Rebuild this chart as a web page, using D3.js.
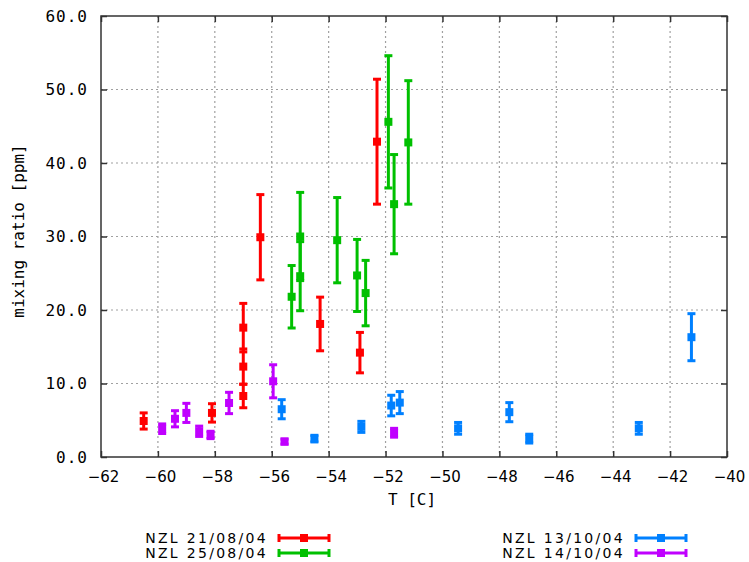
<!DOCTYPE html>
<html>
<head>
<meta charset="utf-8">
<script src="https://cdn.jsdelivr.net/npm/d3@7"></script>
<style>
html,body{margin:0;padding:0;background:#fff;}
svg{display:block;}
</style>
</head>
<body>
<svg id="chart" width="749" height="562"></svg>
<script>
// ---- data ----
const seriesNames = ["NZL 21/08/04", "NZL 25/08/04", "NZL 13/10/04", "NZL 14/10/04"];
const seriesColors = ["#ff0000", "#00c000", "#0080ff", "#c000ff"];

const redX   = [-60.5, -58.1, -57.0, -57.0, -57.0, -56.4, -54.3, -52.9, -52.3];
const redY   = [4.9, 6.0, 17.6, 12.3, 8.3, 29.9, 18.1, 14.2, 42.9];
const redErr = [1.1, 1.25, 3.3, 2.4, 1.6, 5.8, 3.65, 2.75, 8.5];

const greenX   = [-55.3, -55.0, -55.0, -53.7, -53.0, -52.7, -51.9, -51.7, -51.2];
const greenY   = [21.8, 30.0, 24.6, 29.5, 24.7, 22.3, 45.6, 34.4, 42.8];
const greenErr = [4.25, 6.0, 4.7, 5.8, 4.9, 4.45, 9.0, 6.75, 8.4];

const blueX   = [-55.65, -54.5, -52.85, -51.8, -51.5, -49.45, -47.65, -46.95, -43.1, -41.25];
const blueY   = [6.5, 2.5, 4.1, 7.0, 7.4, 3.9, 6.1, 2.5, 3.9, 16.3];
const blueErr = [1.3, 0.45, 0.75, 1.4, 1.5, 0.8, 1.3, 0.6, 0.8, 3.2];

const purpleX   = [-59.85, -59.4, -59.0, -58.55, -58.15, -57.5, -55.95, -55.55, -51.7];
const purpleY   = [3.85, 5.2, 6.0, 3.5, 3.0, 7.35, 10.3, 2.1, 3.3];
const purpleErr = [0.65, 1.1, 1.3, 0.7, 0.5, 1.45, 2.25, 0.35, 0.6];

const xTicks = [-62, -60, -58, -56, -54, -52, -50, -48, -46, -44, -42, -40];
const yTicks = [0, 10, 20, 30, 40, 50, 60];
const xLabel = "T [C]";
const yLabel = "mixing ratio [ppm]";

// ---- layout ----
const svg = d3.select("#chart");
const L = 101, R = 727, T = 16, B = 457;
const x = d3.scaleLinear().domain([-62, -40]).range([L, R]);
const y = d3.scaleLinear().domain([0, 60]).range([B, T]);

const allSeries = [
  {x: redX, y: redY, e: redErr},
  {x: greenX, y: greenY, e: greenErr},
  {x: blueX, y: blueY, e: blueErr},
  {x: purpleX, y: purpleY, e: purpleErr}
].map((s, i) => ({name: seriesNames[i], color: seriesColors[i],
  pts: s.x.map((v, j) => ({x: v, y: s.y[j], e: s.e[j]}))}));

// grid
const grid = svg.append("g").attr("stroke", "#a0a0a0").attr("stroke-width", 1.2)
  .attr("stroke-dasharray", "2,3");
xTicks.slice(1, -1).forEach(t => grid.append("line")
  .attr("x1", x(t)).attr("x2", x(t)).attr("y1", T).attr("y2", B));
yTicks.slice(1, -1).forEach(t => grid.append("line")
  .attr("x1", L).attr("x2", R).attr("y1", y(t)).attr("y2", y(t)));

// axes with inward ticks (bottom/left labeled, top/right unlabeled)
const fmtX = d3.format("d");
const gx = svg.append("g").attr("transform", `translate(0,${B})`)
  .call(d3.axisBottom(x).tickValues(xTicks).tickSizeInner(-6).tickSizeOuter(0).tickPadding(14)
    .tickFormat(d => fmtX(d)));
gx.select(".domain").remove();
gx.selectAll(".tick line").attr("stroke", "#333").attr("stroke-width", 1.5);
gx.selectAll(".tick text").attr("font-family", "DejaVu Sans").attr("font-size", 15)
  .attr("fill", "#000").attr("dx", 2);

const gxt = svg.append("g").attr("transform", `translate(0,${T})`)
  .call(d3.axisTop(x).tickValues(xTicks).tickSizeInner(-6).tickSizeOuter(0).tickFormat(""));
gxt.select(".domain").remove();
gxt.selectAll(".tick line").attr("stroke", "#333").attr("stroke-width", 1.5);

const gy = svg.append("g").attr("transform", `translate(${L},0)`)
  .call(d3.axisLeft(y).tickValues(yTicks).tickSizeInner(-6).tickSizeOuter(0).tickPadding(13)
    .tickFormat(d3.format(".1f")));
gy.select(".domain").remove();
gy.selectAll(".tick line").attr("stroke", "#333").attr("stroke-width", 1.5);
gy.selectAll(".tick text").attr("font-family", "DejaVu Sans Mono").attr("font-size", 16)
  .attr("letter-spacing", "1px").attr("fill", "#000");

const gyr = svg.append("g").attr("transform", `translate(${R},0)`)
  .call(d3.axisRight(y).tickValues(yTicks).tickSizeInner(-6).tickSizeOuter(0).tickFormat(""));
gyr.select(".domain").remove();
gyr.selectAll(".tick line").attr("stroke", "#333").attr("stroke-width", 1.5);

// frame
svg.append("rect").attr("x", L).attr("y", T).attr("width", R - L).attr("height", B - T)
  .attr("fill", "none").attr("stroke", "#333").attr("stroke-width", 1.5);

// axis labels
svg.append("text").attr("x", 412).attr("y", 499).attr("text-anchor", "middle")
  .attr("dominant-baseline", "central").attr("font-family", "DejaVu Sans Mono")
  .attr("font-size", 16).text(xLabel);
svg.append("text").attr("transform", "translate(18,231) rotate(-90)")
  .attr("text-anchor", "middle").attr("dominant-baseline", "central")
  .attr("font-family", "DejaVu Sans Mono").attr("font-size", 16).text(yLabel);

// series
const CAP = 4, MK = 8, LW = 3;
allSeries.forEach(s => {
  const g = svg.append("g").attr("stroke", s.color).attr("fill", s.color);
  s.pts.forEach(p => {
    const cx = x(p.x), y1 = y(p.y + p.e), y0 = y(p.y - p.e);
    g.append("line").attr("x1", cx).attr("x2", cx).attr("y1", y1).attr("y2", y0).attr("stroke-width", LW);
    g.append("line").attr("x1", cx - CAP).attr("x2", cx + CAP).attr("y1", y1).attr("y2", y1).attr("stroke-width", LW);
    g.append("line").attr("x1", cx - CAP).attr("x2", cx + CAP).attr("y1", y0).attr("y2", y0).attr("stroke-width", LW);
    g.append("rect").attr("x", cx - MK / 2).attr("y", y(p.y) - MK / 2).attr("width", MK).attr("height", MK)
      .attr("stroke", "none");
  });
});

// legend
const legendPos = [[268, 538], [268, 553], [625, 538], [625, 553]];
allSeries.forEach((s, i) => {
  const [tx, ty] = legendPos[i];
  svg.append("text").attr("x", tx).attr("y", ty).attr("text-anchor", "end")
    .attr("dominant-baseline", "central").attr("font-family", "DejaVu Sans")
    .attr("font-size", 14).attr("letter-spacing", "2.3px").text(s.name);
  const g = svg.append("g").attr("stroke", s.color).attr("fill", s.color);
  const x0 = tx + 11, x1 = tx + 61, xm = (x0 + x1) / 2;
  g.append("line").attr("x1", x0).attr("x2", x1).attr("y1", ty).attr("y2", ty).attr("stroke-width", LW);
  g.append("line").attr("x1", x0).attr("x2", x0).attr("y1", ty - CAP).attr("y2", ty + CAP).attr("stroke-width", LW);
  g.append("line").attr("x1", x1).attr("x2", x1).attr("y1", ty - CAP).attr("y2", ty + CAP).attr("stroke-width", LW);
  g.append("rect").attr("x", xm - MK / 2).attr("y", ty - MK / 2).attr("width", MK).attr("height", MK).attr("stroke", "none");
});
</script>
</body>
</html>
